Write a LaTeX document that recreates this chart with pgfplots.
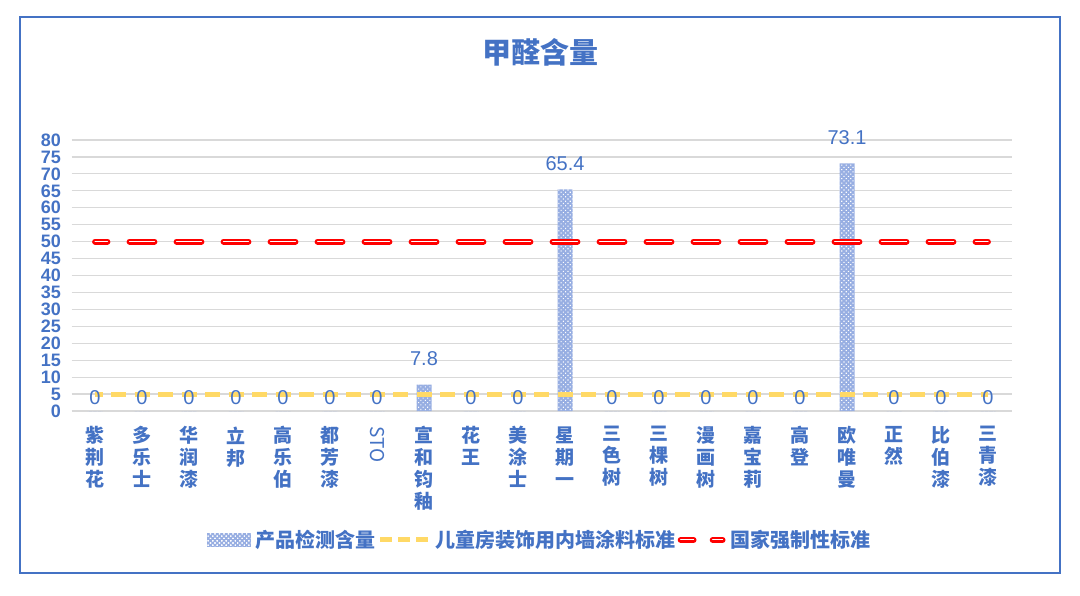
\documentclass[border=0pt]{standalone}
\usepackage{fontspec}
\setmainfont{Noto Sans CJK SC}
\newfontfamily\numfont{Liberation Sans}
\usepackage{pgfplots}
\pgfplotsset{compat=1.18}
\usetikzlibrary{patterns.meta}

\definecolor{textblue}{HTML}{4472C4}
\definecolor{barblue}{HTML}{97AEE2}
\definecolor{stdyellow}{HTML}{FFD966}
\definecolor{gridgray}{HTML}{D9D9D9}

\begin{document}
\begin{tikzpicture}[x=1pt,y=1pt]
	% outer frame
	\draw[textblue, line width=1.5pt] (20,22) rectangle (1060,578);
	% title
	\node[font=\bfseries\fontsize{29}{31}\selectfont, text=textblue] at (540,543) {甲醛含量};

	\begin{axis}[
		at={(71.5pt,184pt)}, anchor=south west,
		scale only axis, width=940pt, height=271pt,
		xmin=-0.5, xmax=19.5, ymin=0, ymax=80,
		xtick={0,...,19},
		xticklabels={{紫\\荆\\花},{多\\乐\\士},{华\\润\\漆},{立\\邦},{高\\乐\\伯},{都\\芳\\漆},
			{\rotatebox{-90}{\mdseries STO}},{宣\\和\\钧\\釉},{花\\王},{美\\涂\\士},{星\\期\\一},
			{三\\色\\树},{三\\棵\\树},{漫\\画\\树},{嘉\\宝\\莉},{高\\登},{欧\\唯\\曼},
			{正\\然},{比\\伯\\漆},{三\\青\\漆}},
		ytick={0,5,...,80},
		ymajorgrids,
		grid style={draw=gridgray, line width=1.2pt},
		axis line style={draw=none},
		tick style={draw=none},
		/pgf/number format/assume math mode=true,
		yticklabel style={font=\numfont\bfseries\fontsize{18}{18}\selectfont, text=textblue, xshift=-7pt},
		xticklabel style={font=\bfseries\fontsize{19}{22}\selectfont, text=textblue, align=center, anchor=north, yshift=-12pt},
		legend style={at={(0.498,-0.476)}, anchor=center, draw=none, fill=none,
			legend columns=-1, font=\bfseries\fontsize{20}{22}\selectfont, text=textblue,
			/tikz/every odd column/.append style={column sep=3pt}},
		]

		% measured content
		\addplot[ybar, bar width=15pt, draw=none, fill=barblue,
			postaction={pattern={Dots[distance=3.2pt, radius=0.8pt, angle=45]}, pattern color=white},
			legend image code/.code={
				\fill[barblue] (0pt,-7pt) rectangle (44pt,7pt);
				\fill[pattern={Dots[distance=3.2pt, radius=0.8pt, angle=45]}, pattern color=white] (0pt,-7pt) rectangle (44pt,7pt);}]
			coordinates {
				(0,0) (1,0) (2,0) (3,0) (4,0) (5,0) (6,0) (7,7.8) (8,0) (9,0)
				(10,65.4) (11,0) (12,0) (13,0) (14,0) (15,0) (16,73.1) (17,0) (18,0) (19,0)
			};
		\addlegendentry{产品检测含量}

		% children's room standard
		\addplot[stdyellow, line width=5pt, dash pattern=on 15pt off 8.5pt, dash phase=7.5pt, mark=none,
			legend image code/.code={
				\draw[stdyellow, line width=5pt, dash pattern=on 12pt off 6pt, dash phase=0pt] (0pt,0pt) -- (48pt,0pt);}]
			coordinates {
				(0,5) (1,5) (2,5) (3,5) (4,5) (5,5) (6,5) (7,5) (8,5) (9,5)
				(10,5) (11,5) (12,5) (13,5) (14,5) (15,5) (16,5) (17,5) (18,5) (19,5)
			};
		\addlegendentry{儿童房装饰用内墙涂料标准}

		% national standard
		\addplot[red, line width=2.4pt, double=white, double distance=1pt, line cap=round,
			dash pattern=on 25pt off 22pt, dash phase=12.5pt, mark=none,
			legend image code/.code={
				\draw[red, line width=2.4pt, double=white, double distance=1pt, line cap=round,
					dash pattern=on 13pt off 19pt, dash phase=0pt] (3pt,0pt) -- (45pt,0pt);}]
			coordinates {
				(0,50) (1,50) (2,50) (3,50) (4,50) (5,50) (6,50) (7,50) (8,50) (9,50)
				(10,50) (11,50) (12,50) (13,50) (14,50) (15,50) (16,50) (17,50) (18,50) (19,50)
			};
		\addlegendentry{国家强制性标准}

		% data labels on top
		\addplot[draw=none, mark=none, forget plot,
			nodes near coords, point meta=y,
			visualization depends on={y \as \rawy},
			every node near coord/.append style={font=\numfont\fontsize{20}{20}\selectfont,
				text=textblue, anchor=center, yshift={ifthenelse(\rawy>1,26,13)}}]
			coordinates {
				(0,0) (1,0) (2,0) (3,0) (4,0) (5,0) (6,0) (7,7.8) (8,0) (9,0)
				(10,65.4) (11,0) (12,0) (13,0) (14,0) (15,0) (16,73.1) (17,0) (18,0) (19,0)
			};
	\end{axis}

	\pgfresetboundingbox
	\useasboundingbox (0,0) rectangle (1080,595);
\end{tikzpicture}
\end{document}
